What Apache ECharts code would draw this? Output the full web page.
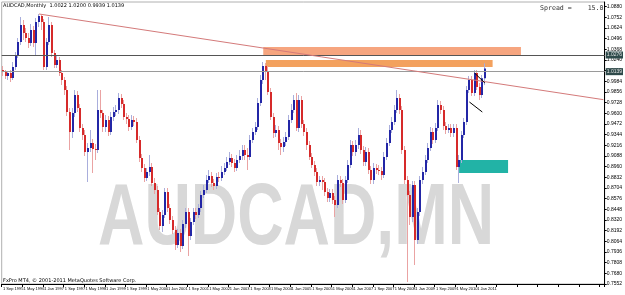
<!DOCTYPE html>
<html><head><meta charset="utf-8">
<script src="https://cdn.jsdelivr.net/npm/echarts@6.0.0/dist/echarts.min.js"></script>
<style>html,body{margin:0;padding:0;background:#fff}#c{width:625px;height:295px}</style>
</head><body><div id="c"></div>
<script>
// Monthly AUDCAD bars, Sep 1995 .. Apr 2011
const openP = [1.0120,1.0096,1.0048,1.0084,1.0024,1.0156,1.0300,1.0456,1.0660,1.0564,
1.0504,1.0444,1.0600,1.0444,1.0696,1.0768,1.0696,1.0156,1.0456,1.0660,
1.0324,1.0180,1.0240,1.0084,1.0000,0.9880,0.9616,0.9376,0.9604,0.9820,
0.9664,0.9424,0.9340,0.9136,0.9184,0.9244,0.9172,0.9160,0.9640,0.9604,
0.9436,0.9520,0.9376,0.9556,0.9616,0.9640,0.9784,0.9712,0.9556,0.9532,
0.9436,0.9520,0.9496,0.9280,0.9064,0.8944,0.8824,0.8896,0.8956,0.8764,
0.8680,0.8416,0.8248,0.8380,0.8656,0.8464,0.8320,0.8200,0.8020,0.8164,
0.8008,0.8272,0.8416,0.8128,0.8296,0.8416,0.8380,0.8464,0.8620,0.8680,
0.8800,0.8848,0.8764,0.8728,0.8836,0.8824,0.8896,0.8944,0.9016,0.9064,
0.9004,0.8944,0.9040,0.9088,0.9160,0.9100,0.9076,0.9280,0.9376,0.9436,
0.9724,1.0000,1.0168,1.0096,0.9856,0.9556,0.9364,0.9400,0.9244,0.9196,
0.9256,0.9316,0.9520,0.9640,0.9760,0.9424,0.9760,0.9472,0.9376,0.9220,
0.9076,0.8980,0.8896,0.8776,0.8800,0.8776,0.8656,0.8584,0.8644,0.8560,
0.8500,0.8800,0.8764,0.8560,0.8800,0.8980,0.9220,0.9136,0.9220,0.9340,
0.9160,0.9016,0.9136,0.8920,0.8800,0.8944,0.8920,0.8908,0.8860,0.9076,
0.9244,0.9400,0.9496,0.9640,0.9784,0.9640,0.9160,0.8800,0.8620,0.8356,
0.8740,0.8080,0.8416,0.8800,0.8896,0.9040,0.9184,0.9376,0.9280,0.9424,
0.9700,0.9640,0.9448,0.9400,0.9424,0.9364,0.9424,0.8956,0.9040,0.9340,
0.9496,0.9880,1.0000,0.9844,1.0084,0.9916,0.9820,1.0022];
const highP = [1.0168,1.0120,1.0108,1.0120,1.0216,1.0336,1.0504,1.0756,1.0720,1.0624,
1.0564,1.0672,1.0648,1.0744,1.0792,1.0780,1.0732,1.0504,1.0756,1.0696,
1.0360,1.0300,1.0276,1.0120,1.0036,0.9928,0.9664,0.9664,0.9880,0.9868,
0.9712,0.9472,0.9400,0.9244,0.9400,0.9292,0.9232,0.9880,0.9880,0.9640,
0.9580,0.9568,0.9616,0.9676,0.9700,0.9844,0.9832,0.9760,0.9604,0.9580,
0.9580,0.9568,0.9544,0.9328,0.9112,0.8992,0.8944,0.9100,0.9004,0.8824,
0.8728,0.8464,0.8440,0.8704,0.8704,0.8512,0.8368,0.8248,0.8212,0.8212,
0.8320,0.8464,0.8464,0.8344,0.8464,0.8464,0.8512,0.8668,0.8740,0.8860,
0.8920,0.8896,0.8812,0.8884,0.8896,0.8968,0.9004,0.9076,0.9136,0.9112,
0.9052,0.9100,0.9160,0.9220,0.9220,0.9184,0.9340,0.9424,0.9496,0.9784,
1.0060,1.0216,1.0204,1.0168,0.9904,0.9604,0.9460,0.9448,0.9292,0.9316,
0.9376,0.9580,0.9712,0.9820,0.9844,0.9820,0.9808,0.9520,0.9424,0.9268,
0.9124,0.9028,0.8944,0.8848,0.8848,0.8824,0.8704,0.8692,0.8692,0.8608,
0.8860,0.8848,0.8812,0.8848,0.9040,0.9280,0.9268,0.9280,0.9424,0.9400,
0.9208,0.9196,0.9184,0.8968,0.9004,0.8992,0.8980,0.8956,0.9136,0.9304,
0.9460,0.9556,0.9700,0.9880,0.9832,0.9688,0.9208,0.8848,0.8668,0.8788,
0.8788,0.8464,0.8848,0.8956,0.9100,0.9244,0.9436,0.9424,0.9484,0.9760,
0.9748,0.9688,0.9496,0.9472,0.9472,0.9472,0.9472,0.9100,0.9388,0.9544,
0.9928,1.0048,1.0048,1.0120,1.0120,0.9964,1.0060,1.0200];
const lowP = [1.0048,1.0012,1.0000,0.9976,1.0000,1.0120,1.0264,1.0420,1.0480,1.0456,
1.0384,1.0408,1.0396,1.0300,1.0636,1.0600,1.0120,1.0120,1.0420,1.0276,
1.0144,1.0144,1.0048,0.9940,0.9820,0.9568,0.9160,0.9304,0.9556,0.9616,
0.9376,0.9280,0.9088,0.8776,0.9136,0.8884,0.9040,0.9124,0.9544,0.9376,
0.9376,0.9328,0.9340,0.9508,0.9568,0.9592,0.9664,0.9520,0.9472,0.9388,
0.9400,0.9448,0.9244,0.9016,0.8896,0.8776,0.8788,0.8848,0.8728,0.8632,
0.8380,0.8200,0.8176,0.8344,0.8416,0.8272,0.8152,0.7960,0.7984,0.7936,
0.7972,0.8224,0.7888,0.8080,0.8260,0.8332,0.8344,0.8416,0.8584,0.8644,
0.8764,0.8716,0.8680,0.8692,0.8776,0.8788,0.8860,0.8908,0.8980,0.8956,
0.8896,0.8908,0.9004,0.9040,0.9040,0.8920,0.9040,0.9244,0.9340,0.9400,
0.9688,0.9952,1.0000,0.9820,0.9520,0.9304,0.9316,0.9160,0.9100,0.9136,
0.9208,0.9280,0.9484,0.9604,0.9388,0.9376,0.9424,0.9328,0.9160,0.9040,
0.8944,0.8848,0.8728,0.8728,0.8680,0.8608,0.8536,0.8536,0.8512,0.8356,
0.8464,0.8716,0.8512,0.8524,0.8764,0.8944,0.9088,0.9088,0.9172,0.9112,
0.8968,0.8968,0.8872,0.8752,0.8752,0.8872,0.8860,0.8800,0.8824,0.9040,
0.9208,0.9364,0.9460,0.9604,0.9592,0.9112,0.8752,0.7576,0.8260,0.8296,
0.7780,0.8032,0.8368,0.8752,0.8860,0.9004,0.9148,0.9232,0.9244,0.9388,
0.9592,0.9400,0.9352,0.9364,0.9316,0.9316,0.8920,0.8764,0.9004,0.9304,
0.9460,0.9844,0.9808,0.9808,0.9880,0.9760,0.9784,0.9939];
const closeP = [1.0096,1.0048,1.0084,1.0024,1.0156,1.0300,1.0456,1.0660,1.0564,1.0504,
1.0444,1.0600,1.0444,1.0696,1.0768,1.0696,1.0156,1.0456,1.0660,1.0324,
1.0180,1.0240,1.0084,1.0000,0.9880,0.9616,0.9376,0.9604,0.9820,0.9664,
0.9424,0.9340,0.9136,0.9184,0.9244,0.9172,0.9160,0.9640,0.9604,0.9436,
0.9520,0.9376,0.9556,0.9616,0.9640,0.9784,0.9712,0.9556,0.9532,0.9436,
0.9520,0.9496,0.9280,0.9064,0.8944,0.8824,0.8896,0.8956,0.8764,0.8680,
0.8416,0.8248,0.8380,0.8656,0.8464,0.8320,0.8200,0.8020,0.8164,0.8008,
0.8272,0.8416,0.8128,0.8296,0.8416,0.8380,0.8464,0.8620,0.8680,0.8800,
0.8848,0.8764,0.8728,0.8836,0.8824,0.8896,0.8944,0.9016,0.9064,0.9004,
0.8944,0.9040,0.9088,0.9160,0.9100,0.9076,0.9280,0.9376,0.9436,0.9724,
1.0000,1.0168,1.0096,0.9856,0.9556,0.9364,0.9400,0.9244,0.9196,0.9256,
0.9316,0.9520,0.9640,0.9760,0.9424,0.9760,0.9472,0.9376,0.9220,0.9076,
0.8980,0.8896,0.8776,0.8800,0.8776,0.8656,0.8584,0.8644,0.8560,0.8500,
0.8800,0.8764,0.8560,0.8800,0.8980,0.9220,0.9136,0.9220,0.9340,0.9160,
0.9016,0.9136,0.8920,0.8800,0.8944,0.8920,0.8908,0.8860,0.9076,0.9244,
0.9400,0.9496,0.9640,0.9784,0.9640,0.9160,0.8800,0.8620,0.8356,0.8740,
0.8080,0.8416,0.8800,0.8896,0.9040,0.9184,0.9376,0.9280,0.9424,0.9700,
0.9640,0.9448,0.9400,0.9424,0.9364,0.9424,0.8956,0.9040,0.9340,0.9496,
0.9880,1.0000,0.9844,1.0084,0.9916,0.9820,1.0022,1.0139];

const monthNames = ['Jan','Feb','Mar','Apr','May','Jun','Jul','Aug','Sep','Oct','Nov','Dec'];
const firstYear = 1995, firstMonth = 8;   // Sep 1995
const slotCount = 234;                    // bars + empty space on the right
const categories = [];
for (let k = 0; k < slotCount; k++) {
  const m = (firstMonth + k) % 12, y = firstYear + Math.floor((firstMonth + k) / 12);
  categories.push('1 ' + monthNames[m] + ' ' + y);
}

// y axis scale
const yMin = 0.7552, yMax = 1.0936, yStep = 0.0128;

// drawn objects (prices / bar indices)
const hLine1 = 1.0276, bidLine = 1.0139;
const trendLine = [[14, 1.0792], [233, 0.9764]];
const zoneSalmon = [[101, 1.0396], [201, 1.0300]];
const zoneSandy = [[102, 1.0240], [190, 1.0156]];
const zoneTeal = [[177, 0.9040], [196, 0.8884]];
const flagLines = [
  [[182.7, 1.0084], [186.9, 0.9964]],
  [[180.8, 0.9736], [185.8, 0.9616]]
];

const bars = openP.map((o, i) => [i, o, closeP[i], lowP[i], highP[i]]);

const chart = echarts.init(document.getElementById('c'), null, {renderer: 'canvas'});
chart.setOption({
  animation: false,
  backgroundColor: '#ffffff',
  title: [
    {text: 'AUDCAD,Monthly  1.0022 1.0200 0.9939 1.0139', left: 3, top: 3, padding: 0,
     textStyle: {fontSize: 5, fontWeight: 'normal', color: '#000', fontFamily: 'DejaVu Sans'}},
    {text: 'FxPro MT4, © 2001-2011 MetaQuotes Software Corp.', left: 3, top: 278, padding: 0,
     textStyle: {fontSize: 5, fontWeight: 'normal', color: '#000', fontFamily: 'DejaVu Sans'}},
    {text: 'Spread =    15.0', left: 540, top: 5, padding: 0,
     textStyle: {fontSize: 6.6, fontWeight: 'normal', color: '#333', fontFamily: 'DejaVu Sans Mono'}}
  ],
  graphic: [{
    type: 'text', left: 98, top: 176, z: 0, silent: true, scaleX: 0.73,
    style: {text: 'AUDCAD,MN', font: 'bold 88px "Liberation Sans"', fill: '#d8d8d8'}
  }],
  grid: {left: 0, right: 13, top: 2, bottom: 11, show: true, borderColor: '#b0b0b0', borderWidth: 1},
  xAxis: {
    type: 'category', data: categories, boundaryGap: true,
    axisLine: {lineStyle: {color: '#000'}},
    axisTick: {show: true, interval: 7, length: 3, lineStyle: {color: '#000'}},
    axisLabel: {interval: 7, fontSize: 4, color: '#000', margin: 3, align: 'left',
      fontFamily: 'Liberation Sans', showMinLabel: true, hideOverlap: false,
      formatter: (v, idx) => idx < openP.length ? v : ''}
  },
  yAxis: {
    type: 'value', position: 'right', min: yMin, max: yMax, interval: yStep,
    splitLine: {show: false},
    axisLine: {show: true, lineStyle: {color: '#000'}},
    axisTick: {show: true, length: 2, lineStyle: {color: '#000'}},
    axisLabel: {fontSize: 5, color: '#000', margin: 2, formatter: v => v.toFixed(4)}
  },
  series: [{
    type: 'custom', z: 3,
    data: bars,
    encode: {x: 0, y: [1, 2, 3, 4]},
    renderItem: function (params, api) {
      const i = api.value(0), o = api.value(1), c = api.value(2), l = api.value(3), h = api.value(4);
      const pO = api.coord([i, o]), pC = api.coord([i, c]), pL = api.coord([i, l]), pH = api.coord([i, h]);
      const up = c >= o;
      const x = Math.round(pO[0]) - 1;
      const top = Math.min(pO[1], pC[1]), bot = Math.max(pO[1], pC[1]);
      return {type: 'group', children: [
        {type: 'line', shape: {x1: x + 0.5, y1: pH[1], x2: x + 0.5, y2: pL[1]},
         style: {stroke: up ? '#a9aedc' : '#eaa3a3', lineWidth: 1}},
        {type: 'rect', shape: {x: x, y: top, width: 2, height: Math.max(bot - top, 1)},
         style: {fill: up ? '#2326a6' : '#d62a2a'}}
      ]};
    }
  }, {
    type: 'line', data: closeP, showSymbol: false, symbol: 'none', silent: true, z: 4,
    lineStyle: {opacity: 0},
    markArea: {silent: true, data: [
      [{coord: zoneSalmon[0], itemStyle: {color: '#f6a57f', opacity: 1}}, {coord: zoneSalmon[1]}],
      [{coord: zoneSandy[0], itemStyle: {color: '#f3a15e', opacity: 1}}, {coord: zoneSandy[1]}],
      [{coord: zoneTeal[0], itemStyle: {color: '#22b3a6', opacity: 1}}, {coord: zoneTeal[1]}]
    ]},
    markLine: {silent: true, symbol: 'none', animation: false, data: [
      {yAxis: hLine1, lineStyle: {color: '#555555', width: 1, type: 'solid'},
       label: {show: true, position: 'end', distance: 1, formatter: hLine1.toFixed(4), fontSize: 5,
               color: '#e0e0e0', backgroundColor: '#2e4a4a', padding: [1, 1]}},
      {yAxis: bidLine, lineStyle: {color: '#9a9a9a', width: 1, type: 'solid'},
       label: {show: true, position: 'end', distance: 1, formatter: bidLine.toFixed(4), fontSize: 5,
               color: '#e0e0e0', backgroundColor: '#2e4a4a', padding: [1, 1]}},
      [{coord: trendLine[0], lineStyle: {color: '#d47a7a', width: 1, type: 'solid'}, label: {show: false}}, {coord: trendLine[1]}],
      ...flagLines.map(s => [{coord: s[0], lineStyle: {color: '#000', width: 1, type: 'solid'}, label: {show: false}}, {coord: s[1]}])
    ]}
  }]
});
</script></body></html>
